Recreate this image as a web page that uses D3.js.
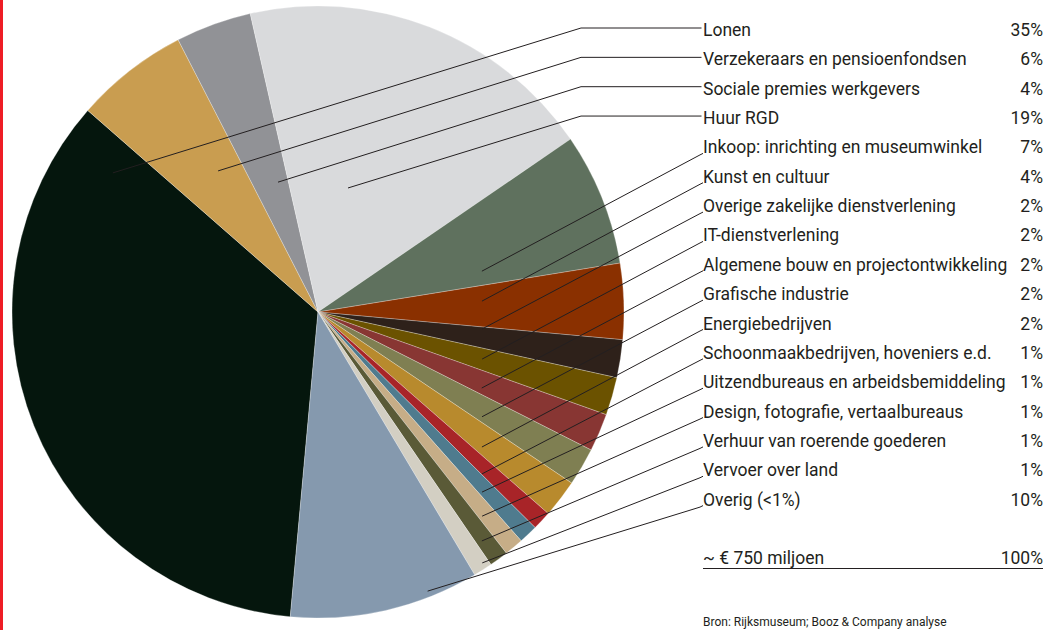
<!DOCTYPE html>
<html>
<head>
<meta charset="utf-8">
<script src="https://cdn.jsdelivr.net/npm/d3@7"></script>
<style>
  html, body { margin: 0; padding: 0; background: #ffffff; }
  svg { display: block; }
  text { font-family: Roboto, "Liberation Sans", sans-serif; fill: #231f20; }
</style>
</head>
<body>
<svg id="chart" width="1045" height="630"></svg>
<script>
// Cost categories (Dutch) and their share of the total, in percent
const categories = [
  "Lonen",
  "Verzekeraars en pensioenfondsen",
  "Sociale premies werkgevers",
  "Huur RGD",
  "Inkoop: inrichting en museumwinkel",
  "Kunst en cultuur",
  "Overige zakelijke dienstverlening",
  "IT-dienstverlening",
  "Algemene bouw en projectontwikkeling",
  "Grafische industrie",
  "Energiebedrijven",
  "Schoonmaakbedrijven, hoveniers e.d.",
  "Uitzendbureaus en arbeidsbemiddeling",
  "Design, fotografie, vertaalbureaus",
  "Verhuur van roerende goederen",
  "Vervoer over land",
  "Overig (<1%)"
];
const shares = [35, 6, 4, 19, 7, 4, 2, 2, 2, 2, 2, 1, 1, 1, 1, 1, 10];
const totalLabel = "~ € 750 miljoen";
const totalShare = 100;
const sourceNote = "Bron: Rijksmuseum; Booz & Company analyse";

// Slice palette, one colour per category
const sliceColors = [
  "#05160d", "#c99d50", "#919296", "#d9dadc", "#5f715e", "#8a3000",
  "#2e211a", "#6b5200", "#883633", "#7f7f52", "#b88a2d", "#a82428",
  "#4f7b8e", "#c6ad87", "#5a5a37", "#d3cfc3", "#8599ae"
];

// ---- layout ----
const W = 1045, H = 630;
const cx = 318, cy = 312, R = 306;
const startDeg = 185.2;
const labelX = 703, valueX = 1043;
const rowTop = 36, rowStep = 29.35;
const elbowX = 581;

// where each leader line starts inside its slice:
// [fraction along the slice's sweep, fraction of the radius]
const leaderAnchor = [
  [0.944, 0.81], [0.625, 0.565], [0.70, 0.444], [0.386, 0.417],
  [0.81, 0.552], [0.375, 0.537], [0.10, 0.539], [0.50, 0.558],
  [0.736, 0.59], [0.80, 0.636], [0.76, 0.694], [0.96, 0.753],
  [0.80, 0.796], [0.78, 0.856], [0.67, 0.92], [0.33, 0.98],
  [0.26, 0.98]
];

const svg = d3.select("#chart");

// red rule on the left edge
svg.append("rect")
  .attr("x", 0).attr("y", 0).attr("width", 3).attr("height", H)
  .attr("fill", "#ee1c25");

const a0 = startDeg * Math.PI / 180;
const pie = d3.pie().sort(null).value(d => d)
  .startAngle(a0).endAngle(a0 + 2 * Math.PI);
const arcs = pie(shares);
const arc = d3.arc().innerRadius(0).outerRadius(R);

const g = svg.append("g").attr("transform", `translate(${cx},${cy})`);
g.selectAll("path.slice")
  .data(arcs)
  .join("path")
  .attr("class", "slice")
  .attr("d", arc)
  .attr("fill", (d, i) => sliceColors[i])
  .attr("stroke", "rgba(255,255,255,0.45)")
  .attr("stroke-width", 0.6);

const rowY = d3.scaleLinear().domain([0, 1]).range([rowTop, rowTop + rowStep]);

// leader lines
const leaders = arcs.map((d, i) => {
  const [f, rho] = leaderAnchor[i];
  const a = d.startAngle + f * (d.endAngle - d.startAngle);
  const p = [cx + rho * R * Math.sin(a), cy - rho * R * Math.cos(a)];
  const y = rowY(i);
  if (i < 4) {
    return [p, [elbowX, y - 8], [labelX - 1.5, y - 8]];
  }
  return [p, [labelX - 3, y + 1.5], [labelX, y]];
});

svg.append("g")
  .selectAll("path")
  .data(leaders)
  .join("path")
  .attr("d", d3.line())
  .attr("fill", "none")
  .attr("stroke", "#231f20")
  .attr("stroke-width", 1);

// category labels and percentages
const fs = 17.5;
const labels = svg.append("g");
labels.selectAll("text.cat")
  .data(categories)
  .join("text")
  .attr("class", "cat")
  .attr("x", labelX)
  .attr("y", (d, i) => rowY(i))
  .attr("font-size", fs)
  .text(d => d);

labels.selectAll("text.val")
  .data(shares)
  .join("text")
  .attr("class", "val")
  .attr("x", valueX)
  .attr("y", (d, i) => rowY(i))
  .attr("text-anchor", "end")
  .attr("font-size", fs)
  .text(d => d + "%");

// total row
const totalY = 564;
svg.append("text")
  .attr("x", labelX).attr("y", totalY)
  .attr("font-size", fs)
  .text(totalLabel);
svg.append("text")
  .attr("x", valueX).attr("y", totalY)
  .attr("text-anchor", "end")
  .attr("font-size", fs)
  .text(totalShare + "%");
svg.append("line")
  .attr("x1", labelX).attr("x2", valueX)
  .attr("y1", totalY + 4.5).attr("y2", totalY + 4.5)
  .attr("stroke", "#231f20").attr("stroke-width", 1);

// source note
svg.append("text")
  .attr("x", labelX).attr("y", 626)
  .attr("font-size", 12)
  .text(sourceNote);
</script>
</body>
</html>
